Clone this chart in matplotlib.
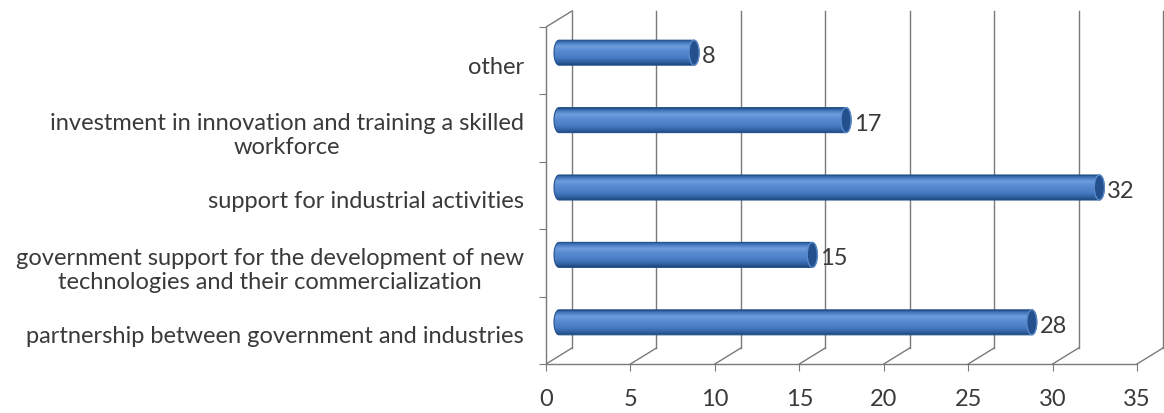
import numpy as np
import matplotlib
matplotlib.use("Agg")
import matplotlib.pyplot as plt
from matplotlib.patches import Ellipse, PathPatch
from matplotlib.path import Path
from matplotlib.colors import LinearSegmentedColormap

categories = [
    "partnership between government and industries",
    "government support for the development of new\ntechnologies and their commercialization",
    "support for industrial activities",
    "investment in innovation and training a skilled\nworkforce",
    "other",
]
values = [28, 15, 32, 17, 8]
xticks = [0, 5, 10, 15, 20, 25, 30, 35]

plt.rcParams['font.family'] = ['Lato', 'DejaVu Sans']
TXT = '#3a3a3a'
GRID = '#7a7a7a'
FS = 17

fig = plt.figure(figsize=(11.64, 4.14), dpi=100)
W, H = 1164, 414
x0px, x35px = 546, 1137
ppu = (x35px - x0px) / 35.0
ybot, ytop5 = 365, 28
ppc = (ybot - ytop5) / 5.0
top_px = 10
right_px = 1164
ax = fig.add_axes([x0px / W, (H - ybot) / H, (right_px - x0px) / W, (ybot - top_px) / H])
ax.set_xlim(0, (right_px - x0px) / ppu)
ax.set_ylim(0, (ybot - top_px) / ppc)

dx = 26 / ppu
dy = 16 / ppc
n = len(categories)

for s in ['top', 'right']:
    ax.spines[s].set_visible(False)
ax.spines['left'].set_bounds(0, n)
ax.spines['bottom'].set_bounds(0, 35)
for s in ['left', 'bottom']:
    ax.spines[s].set_color(GRID)
    ax.spines[s].set_linewidth(1.0)

# back wall gridlines and floor diagonals
for xv in xticks:
    ax.plot([xv + dx, xv + dx], [dy, n + dy], color=GRID, lw=1.0, zorder=1)
    ax.plot([xv, xv + dx], [0, dy], color=GRID, lw=1.0, zorder=1)
ax.plot([0, dx], [n, n + dy], color=GRID, lw=1.0, zorder=1)

# ticks
ax.set_xticks(xticks)
ax.set_xticklabels([str(v) for v in xticks])
ax.tick_params(axis='x', direction='out', length=5, color=GRID, labelsize=FS,
               labelcolor=TXT, pad=12)
ax.set_yticks(np.arange(n + 1))
ax.set_yticklabels([''] * (n + 1))
ax.tick_params(axis='y', which='major', direction='out', length=5, color=GRID)
ax.set_yticks(np.arange(n) + 0.45, minor=True)
ax.set_yticklabels(categories, minor=True, multialignment='center', linespacing=1.15)
ax.tick_params(axis='y', which='minor', length=0, labelsize=FS, labelcolor=TXT, pad=16)

# cylinders
cmap = LinearSegmentedColormap.from_list('cyl', [
    (0.0, '#1f4577'), (0.07, '#3a6fb6'), (0.25, '#6f9edd'), (0.42, '#5a8cd2'),
    (0.7, '#477cc4'), (0.9, '#2e5e9e'), (1.0, '#1d4271')])
grad = np.linspace(0, 1, 256).reshape(-1, 1)
bh = 25 / ppc
ew = 10 / ppu
left = dx / 2
ys = np.arange(n) + 0.5 + dy / 2
bars = ax.barh(ys, values, height=bh, left=left, color='none', edgecolor='none', zorder=3)
for rect, v, yc in zip(bars, values, ys):
    x1 = left + v
    t = np.linspace(np.pi / 2, 3 * np.pi / 2, 30)
    lx = left + ew / 2 * np.cos(t)
    ly = yc + bh / 2 * np.sin(t)
    t2 = np.linspace(-np.pi / 2, np.pi / 2, 30)
    rx = x1 + ew / 2 * np.cos(t2)
    ry = yc + bh / 2 * np.sin(t2)
    verts = np.concatenate([np.column_stack([lx, ly]), np.column_stack([rx, ry]),
                            [[lx[0], ly[0]]]])
    path = Path(verts, closed=True)
    patch = PathPatch(path, facecolor='none', edgecolor='#24528e', lw=0.8, zorder=4)
    ax.add_patch(patch)
    im = ax.imshow(grad, cmap=cmap, aspect='auto', origin='upper',
                   extent=(left - ew / 2, x1 + ew / 2, yc - bh / 2, yc + bh / 2),
                   zorder=3, interpolation='bilinear')
    im.set_clip_path(patch)
    cap = Ellipse((x1, yc), ew, bh, facecolor='#24508e', edgecolor='#5d8ccc', lw=0.9, zorder=5)
    ax.add_patch(cap)
    ax.text(x1 + ew / 2 + 3 / ppu, yc - 3 / ppc, str(v), ha='left', va='center',
            fontsize=FS, color=TXT, zorder=6)

ax.set_xlim(0, (right_px - x0px) / ppu)
ax.set_ylim(0, (ybot - top_px) / ppc)
fig.savefig('out.png', dpi=100)
